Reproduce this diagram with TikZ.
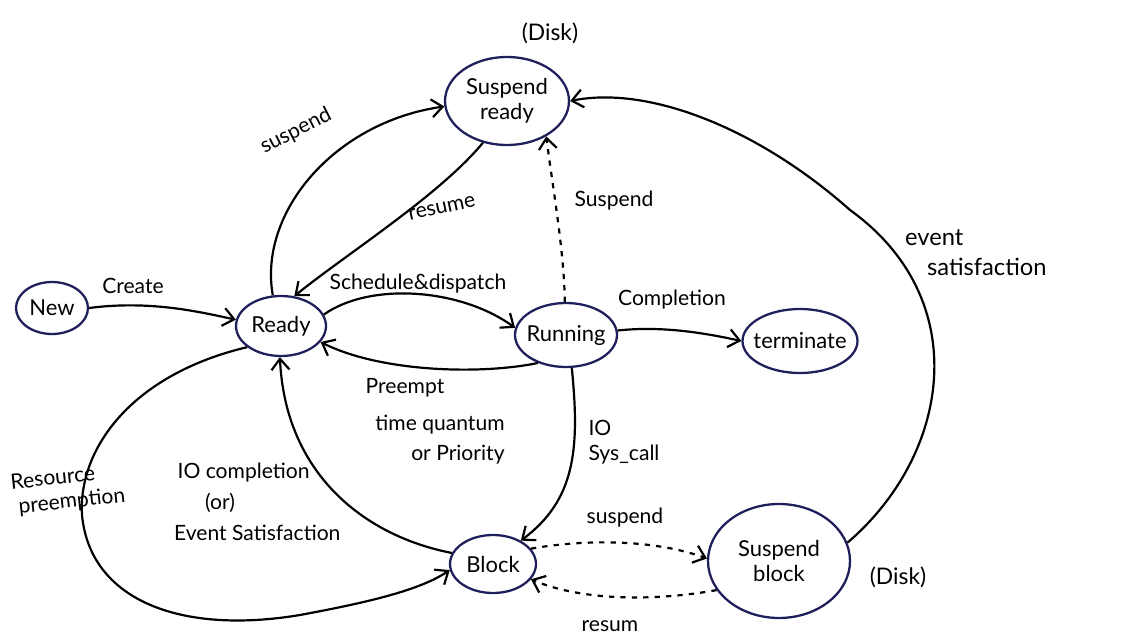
\documentclass[tikz,border=0pt]{standalone}
\usepackage{fontspec}
\setmainfont{Lato}
\usetikzlibrary{arrows.meta,shapes.geometric}
\definecolor{ink}{HTML}{1F1F5C}
\begin{document}
\begin{tikzpicture}[x=0.02cm,y=-0.02cm,
  state/.style={ellipse,draw=ink,line width=1.3pt,inner sep=0pt},
  stxt/.style={font=\fontsize{12.5}{14.5}\selectfont,align=center,inner sep=0pt},
  flow/.style={line width=1.25pt,-{Straight Barb[length=2.2mm,width=3.6mm]}},
  dotflow/.style={flow,dash pattern=on 3pt off 3.5pt},
  lbl/.style={font=\fontsize{12}{14}\selectfont,align=center,inner sep=1pt}]
\useasboundingbox (0,0) rectangle (1146,642);

% states
\node[state,minimum width=1.44cm,minimum height=1.04cm,label={[stxt]center:New}] (new) at (52,308) {};
\node[state,minimum width=1.8cm,minimum height=1.2cm,label={[stxt]center:Ready}] (ready) at (281,326) {};
\node[state,minimum width=2.48cm,minimum height=1.76cm,label={[stxt]center:Suspend\\ready}] (sr) at (507,101) {};
\node[state,minimum width=2.04cm,minimum height=1.28cm,label={[stxt]center:Running}] (run) at (566,335) {};
\node[state,minimum width=2.3cm,minimum height=1.28cm,label={[stxt]center:terminate}] (term) at (800,341) {};
\node[state,minimum width=1.72cm,minimum height=1.16cm,label={[stxt]center:Block}] (block) at (493,564) {};
\node[state,minimum width=2.84cm,minimum height=2.28cm,label={[stxt]center:Suspend\\block}] (sb) at (779,561) {};

% transitions
\draw[flow] (new.east) .. controls (150,300) and (200,312) .. (ready.172);
\draw[flow] (ready.105) .. controls (258,212) and (335,122) .. (sr.185);
\draw[flow] (sr.240) .. controls (440,195) and (345,255) .. (ready.66);
\draw[flow] (ready.15) .. controls (370,282) and (460,288) .. (run.172);
\draw[flow] (run.225) .. controls (480,375) and (380,372) .. (ready.338);
\draw[dotflow] (run.92) .. controls (564,250) and (553,190) .. (sr.318);
\draw[flow] (run.5) .. controls (660,326) and (700,332) .. (term.west);
\draw[flow] (run.280) .. controls (580,450) and (575,500) .. (block.40);
\draw[flow] (block.165) .. controls (360,535) and (285,470) .. (ready.268);
\draw[flow] (ready.212) .. controls (130,375) and (78,450) .. (82,515)
  .. controls (90,600) and (180,635) .. (300,615)
  .. controls (370,602) and (420,590) .. (block.188);
\draw[dotflow] (block.22) .. controls (580,540) and (650,538) .. (sb.178);
\draw[dotflow] (sb.205) .. controls (650,602) and (580,600) .. (block.338);
\draw[flow] (sb.15) .. controls (950,455) and (975,300) .. (850,210)
  .. controls (760,130) and (650,85) .. (sr.east);

% labels
\node[lbl,font=\fontsize{13}{15}\selectfont] (disk1) at (550,33) {(Disk)};
\node[lbl,font=\fontsize{13}{15}\selectfont] (disk2) at (898,577) {(Disk)};
\node[lbl,rotate=27] (l1) at (296,131) {suspend};
\node[lbl,rotate=12] (l2) at (442,208) {resume};
\node[lbl] (l3) at (614,201) {Suspend};
\node[lbl] (l4) at (133,286) {Create};
\node[lbl] (l5) at (418,284) {Schedule\&dispatch};
\node[lbl] (l6) at (672,300) {Completion};
\node[lbl] (l7) at (405,388) {Preempt};
\node[lbl,align=right,font=\fontsize{12}{17}\selectfont] (l8) at (440,440) {time quantum\\\quad or Priority};
\node[lbl,align=left] (l9) at (624,442) {IO\\Sys\_call};
\node[lbl,rotate=6,align=left] (l10) at (68,490) {Resource\\\ preemption};
\node[lbl,align=left,anchor=north west,font=\fontsize{12}{17.5}\selectfont] (l11) at (172,461)
  {\,IO completion\\\hspace{0.62cm}(or)\\Event Satisfaction};
\node[lbl] (l12) at (625,518) {suspend};
\node[lbl] (l13) at (610,626) {resum};
\node[lbl,align=left,anchor=west,font=\fontsize{13.5}{17}\selectfont] (l14) at (903,253)
  {event\\\hspace{0.44cm}satisfaction};
\end{tikzpicture}
\end{document}
